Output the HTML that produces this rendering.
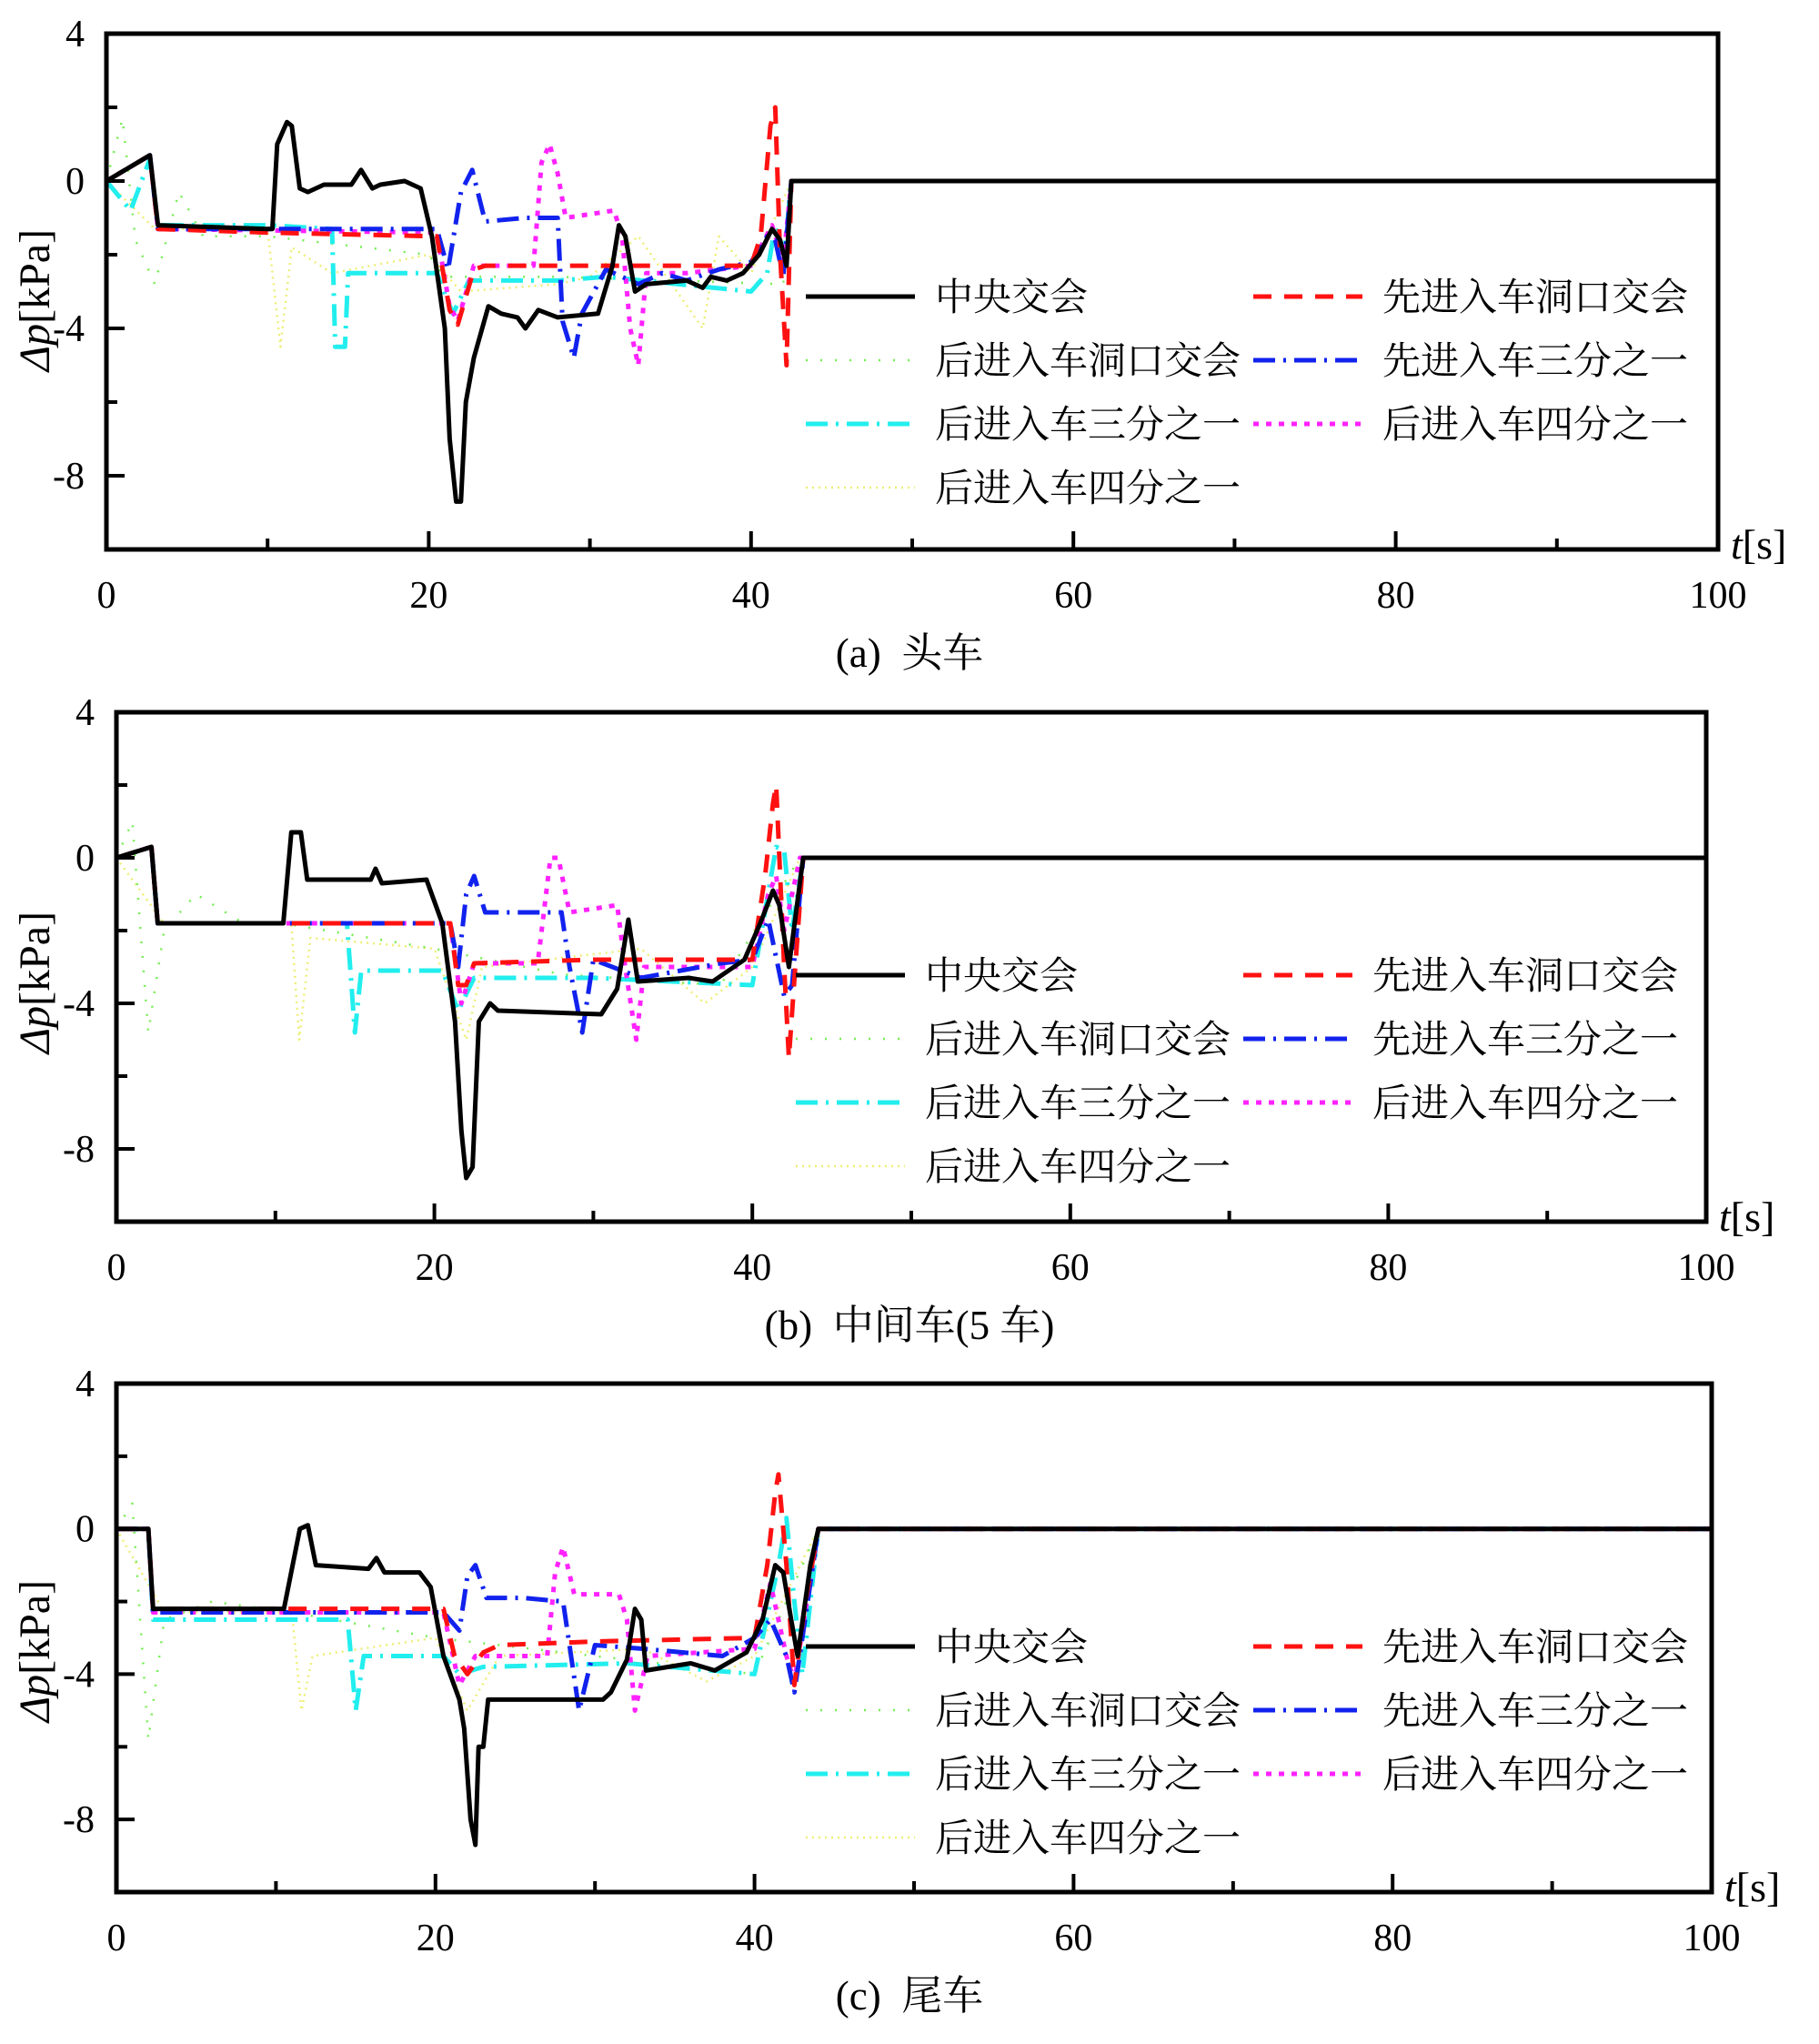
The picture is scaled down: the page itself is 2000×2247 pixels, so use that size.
<!DOCTYPE html>
<html><head><meta charset="utf-8">
<style>
html,body{margin:0;padding:0;background:#fff;}
svg{display:block;font-family:"Liberation Serif","Noto Serif CJK SC","Noto Sans CJK SC",serif;}
.cap{white-space:pre;}
</style></head>
<body>
<svg id="chart" width="2000" height="2247" viewBox="0 0 2000 2247" xmlns="http://www.w3.org/2000/svg"></svg>
<script>
// ---- data: panel (a) 头车 ----
const aBlackT=[0,2.7,3.2,10,10.3,10.6,11.2,11.5,12,12.5,13.5,15.2,15.8,16.5,17,18.5,19.5,20.2,21,21.3,21.7,22,22.3,22.8,23.7,24.5,25.5,26,26.8,28,30.5,31.4,31.8,32.2,32.8,33.5,36,37,37.5,38.5,39.5,40.5,41.3,41.8,42.2,42.5,100];
const aBlackV=[0,0.7,-1.2,-1.3,-1.3,1.0,1.6,1.5,-0.2,-0.3,-0.1,-0.1,0.3,-0.2,-0.1,0,-0.2,-1.5,-4,-7,-8.7,-8.7,-6,-4.8,-3.4,-3.6,-3.7,-4,-3.5,-3.7,-3.6,-2.3,-1.2,-1.5,-3,-2.8,-2.7,-2.9,-2.6,-2.7,-2.5,-2,-1.3,-1.6,-2.3,0,0];
const aRedT=[0,2.7,3.2,10,20.5,21.3,21.8,22.8,23.5,40,40.6,41.2,41.5,41.8,42.2,42.5,100];
const aRedV=[0,0.7,-1.3,-1.4,-1.5,-3.5,-3.9,-2.4,-2.3,-2.3,-1.5,1.5,2.0,-2,-5,0,0];
const aBlueT=[0,2.7,3.2,20.5,21.2,22,22.7,23.5,26,28,28.3,29,29.5,31,33,34.5,36,38,40,41,41.5,42,42.5,100];
const aBlueV=[0,0.7,-1.3,-1.3,-2.4,-0.3,0.3,-1.1,-1,-1,-3.8,-4.8,-3.6,-2.4,-2.8,-2.5,-2.7,-2.4,-2.2,-1.5,-1.6,-2.6,0,0];
const aMagT=[0,2.7,3.2,20.5,21.3,21.8,22.8,26.5,27,27.5,28,28.5,31.5,32,32.5,33,33.5,36,40,41.3,42,42.5,100];
const aMagV=[0,0.7,-1.3,-1.4,-3.4,-3.8,-2.3,-2.3,0.5,1.0,0.2,-1.0,-0.8,-1.5,-4,-5,-2.5,-2.5,-2.3,-1.2,-2.2,0,0];
const aCyanT=[0,1.5,2.7,3.2,10,14,14.2,14.8,15,20.5,21.5,22.5,28,31,40,41,41.5,42,42.5,100];
const aCyanV=[0,-0.8,0.6,-1.2,-1.2,-1.3,-4.5,-4.5,-2.5,-2.5,-3.6,-2.7,-2.7,-2.6,-3,-2.5,-1.2,-2.3,0,0];
const aGreenT=[0,1,1.8,3,4.5,6,10,20,21,28,42,42.5,100];
const aGreenV=[0,1.7,-1.6,-2.8,-0.3,-1.5,-1.5,-2,-2.6,-2.6,-2.8,0,0];
const aYelT=[0,3,10,10.8,11.5,14,20,22,28,30,33,37,38,40,42.5,100];
const aYelV=[0,-1.3,-1.3,-4.5,-1.8,-2.5,-2.0,-3,-2.8,-2.6,-1.5,-4,-1.5,-2.5,0,0];
// ---- data: panel (b) 中间车 ----
const bBlackT=[0,2.2,2.6,10.5,11,11.6,12,16,16.3,16.7,19.5,20.5,21.3,21.7,22,22.4,22.8,23.5,24,30.5,31.5,32.2,32.8,36,37.5,39.5,40.5,41.3,41.7,42.3,43.2,100];
const bBlackV=[0,0.3,-1.8,-1.8,0.7,0.7,-0.6,-0.6,-0.3,-0.7,-0.6,-1.8,-4.5,-7.5,-8.8,-8.5,-4.5,-4,-4.2,-4.3,-3.6,-1.7,-3.4,-3.3,-3.4,-2.8,-1.8,-0.9,-1.3,-3,0,0];
const bRedT=[0,2.2,2.6,21,21.5,22,22.5,30,40,40.8,41.3,41.5,42,42.3,42.7,43.2,100];
const bRedV=[0,0.3,-1.8,-1.8,-3.5,-3.5,-2.9,-2.8,-2.8,-0.5,1.5,2,-3,-5.5,-3,0,0];
const bBlueT=[0,2.2,2.6,21,21.5,22,22.5,23.2,28,28.5,29.3,30,33,38,40,41,42,42.5,43.2,100];
const bBlueV=[0,0.3,-1.8,-1.8,-3,-1,-0.5,-1.5,-1.5,-3,-4.8,-2.8,-3.3,-2.9,-2.8,-1.7,-3.8,-3.5,0,0];
const bMagT=[0,2.2,2.6,21,21.7,22.5,26.5,27.3,27.8,28.5,31.5,32,32.7,33.2,40,41,41.5,42,43,100];
const bMagV=[0,0.3,-1.8,-1.8,-4,-2.9,-2.9,0,0,-1.5,-1.3,-3,-5,-3,-3,-1,-0.5,-2,0,0];
const bCyanT=[0,2.2,2.6,14.5,15,15.4,20.5,21.5,22.5,30,40,41.5,42,42.5,43.2,100];
const bCyanV=[0,0.3,-1.8,-1.8,-4.8,-3.1,-3.1,-4.2,-3.3,-3.3,-3.5,0.3,0.2,-2,0,0];
const bGreenT=[0,1,2,3,5,8,10.5,20,28,38,43,100];
const bGreenV=[0,1,-4.8,-2,-1,-1.8,-1.8,-2.5,-3.2,-3.5,0,0];
const bYelT=[0,3,11,11.5,12.2,20,22,23,33,37,40,43,100];
const bYelV=[0,-1.8,-1.8,-5,-2.2,-2.5,-5,-3,-2.5,-4,-3,0,0];
// ---- data: panel (c) 尾车 ----
const cBlackT=[0,2,2.3,10.5,11.5,12,12.5,15.8,16.3,16.8,19,19.7,20.5,21.5,21.8,22.2,22.5,22.7,23,23.3,28,30.5,31,32,32.5,32.9,33.2,36,37.5,39.5,40.5,41.3,41.8,42.3,42.7,43.5,44,100];
const cBlackV=[0,0,-2.2,-2.2,0,0.1,-1.0,-1.1,-0.8,-1.2,-1.2,-1.6,-3.5,-4.7,-5.5,-8,-8.7,-6,-6,-4.7,-4.7,-4.7,-4.5,-3.6,-2.2,-2.5,-3.9,-3.7,-3.9,-3.4,-2.5,-1.0,-1.2,-2.5,-3.5,-1,0,0];
const cRedT=[0,2,2.3,20.5,21.2,22,23,24,30,40,40.8,41.3,41.5,42,42.5,43.2,44,100];
const cRedV=[0,0,-2.2,-2.2,-3.5,-4,-3.4,-3.2,-3.1,-3,-1,1.0,1.5,-1,-4.3,-2,0,0];
const cBlueT=[0,2,2.3,20.5,21.5,22,22.5,23.2,25.5,28,29,30,33,38,40,41,42,42.5,44,100];
const cBlueV=[0,0,-2.3,-2.3,-2.8,-1.3,-1.0,-1.9,-1.9,-2,-5.0,-3.2,-3.3,-3.5,-3,-2.5,-3.5,-4.5,0,0];
const cMagT=[0,2,2.3,20.5,21.5,22.5,27,27.5,28,28.7,31.5,32,32.5,33.3,40,41,42,42.5,44,100];
const cMagV=[0,0,-2.3,-2.3,-4.3,-3.5,-3.5,-1.2,-0.5,-1.8,-1.8,-2.5,-5,-3.5,-3.3,-1.5,-3.5,-4.2,0,0];
const cCyanT=[0,2,2.3,14.5,15,15.5,20.5,21.5,23,32,40,41.5,42,42.5,43,44,100];
const cCyanV=[0,0,-2.5,-2.5,-5,-3.5,-3.5,-4,-3.8,-3.7,-4,-1,0.3,-2,-4,0,0];
const cGreenT=[0,1,2,3,6,11,20,30,40,44,100];
const cGreenV=[0,0.7,-5.8,-2.5,-2,-2.3,-3,-3.5,-4,0,0];
const cYelT=[0,3,11,11.6,12.3,20,22,24,33,37,40,44,100];
const cYelV=[0,-2.3,-2.3,-5,-3.5,-3,-5,-3.5,-3.3,-4.2,-3.5,0,0];

const xTicks=[0,20,40,60,80,100];
const yTicks=[4,0,-4,-8];
const legendLabels=["中央交会","先进入车洞口交会","后进入车洞口交会","先进入车三分之一","后进入车三分之一","后进入车四分之一","后进入车四分之一"];

const NS="http://www.w3.org/2000/svg";
const svg=document.getElementById('chart');
function mk(tag,attrs,parent){const e=document.createElementNS(NS,tag);for(const k in attrs)e.setAttribute(k,attrs[k]);(parent||svg).appendChild(e);return e;}

const styles={
 yel:{stroke:"#eeee77",w:2.5,dash:"2 5"},
 green:{stroke:"#77ee55",w:2.5,dash:"2 14"},
 cyan:{stroke:"#22eeee",w:5,dash:"24 9 3 9"},
 mag:{stroke:"#ff22ff",w:5,dash:"6 8"},
 blue:{stroke:"#1122ee",w:5,dash:"24 9 3 9"},
 red:{stroke:"#ff1111",w:5,dash:"20 14"},
 black:{stroke:"#000",w:5,dash:""}
};
const legendStyle=["black","red","green","blue","cyan","mag","yel"];

const panels=[
 {id:"a",L:117,R:1889,T:37,B:604,cap:"(a)  头车",capY:733,ylabY:330,legDx:0,
  s:{yel:[aYelT,aYelV],green:[aGreenT,aGreenV],cyan:[aCyanT,aCyanV],mag:[aMagT,aMagV],blue:[aBlueT,aBlueV],red:[aRedT,aRedV],black:[aBlackT,aBlackV]}},
 {id:"b",L:128,R:1876,T:783,B:1343,cap:"(b)  中间车(5 车)",capY:1472,ylabY:1080,legDx:-11,
  s:{yel:[bYelT,bYelV],green:[bGreenT,bGreenV],cyan:[bCyanT,bCyanV],mag:[bMagT,bMagV],blue:[bBlueT,bBlueV],red:[bRedT,bRedV],black:[bBlackT,bBlackV]}},
 {id:"c",L:128,R:1882,T:1521,B:2080,cap:"(c)  尾车",capY:2209,ylabY:1815,legDx:0,
  s:{yel:[cYelT,cYelV],green:[cGreenT,cGreenV],cyan:[cCyanT,cCyanV],mag:[cMagT,cMagV],blue:[cBlueT,cBlueV],red:[cRedT,cRedV],black:[cBlackT,cBlackV]}}
];

panels.forEach(p=>{
 const g=mk('g',{});
 
 
 const xs=t=>p.L+(t/100)*(p.R-p.L);
 const ys=v=>p.T+(4-v)/14*(p.B-p.T);
 const sg=mk('g',{},g);
 ["yel","green","cyan","mag","blue","red","black"].forEach(k=>{
  const [T,V]=p.s[k];const st=styles[k];
  let d="";T.forEach((t,i)=>{d+=(i?"L":"M")+xs(t).toFixed(1)+" "+ys(V[i]).toFixed(1);});
  const path=mk('path',{d:d,fill:"none",stroke:st.stroke,'stroke-width':st.w,'stroke-dasharray':st.dash,'stroke-linejoin':'round'},sg);
  
  
 });
 const fr=mk('rect',{x:p.L,y:p.T,width:p.R-p.L,height:p.B-p.T,fill:"none",stroke:"#000",'stroke-width':5},g);
 
 
 for(let t=10;t<100;t+=10){
  const len=(t%20===0)?20:12;
  mk('line',{x1:xs(t),x2:xs(t),y1:p.B,y2:p.B-len,stroke:"#000",'stroke-width':4},g);
 }
 xTicks.forEach(t=>{
  const tx=mk('text',{x:xs(t),y:p.B+64,'font-size':42,'text-anchor':'middle'},g);
  tx.textContent=t;
  
  
 });
 for(let v=2;v>=-8;v-=2){
  const len=(v%4===0)?20:12;
  mk('line',{x1:p.L,x2:p.L+len,y1:ys(v),y2:ys(v),stroke:"#000",'stroke-width':4},g);
 }
 yTicks.forEach(v=>{
  const tx=mk('text',{x:p.L-24,y:ys(v)+14,'font-size':42,'text-anchor':'end'},g);
  tx.textContent=v;
  
  
 });
 const yl=mk('text',{x:0,y:0,'font-size':48,'text-anchor':'middle',transform:`translate(54 ${p.ylabY}) rotate(-90)`},g);
 yl.innerHTML='<tspan font-style="italic">Δp</tspan>[kPa]';
 
 
 const xl=mk('text',{x:p.R+14,y:p.B+10,'font-size':46},g);
 xl.innerHTML='<tspan font-style="italic">t</tspan>[s]';
 
 
 const cap=mk('text',{x:1000,y:p.capY,'font-size':45,'text-anchor':'middle','class':'cap'},g);
 cap.textContent=p.cap;
 
 
 const lg=mk('g',{},g);
 
 
 legendLabels.forEach((lab,i)=>{
  const col=i%2,row=Math.floor(i/2);
  const lx=(col?1378:886)+p.legDx, ty=p.T+289+row*70;
  const st=styles[legendStyle[i]];
  const e=mk('g',{},lg);
  
  
  mk('line',{x1:lx,x2:lx+120,y1:ty,y2:ty,stroke:st.stroke,'stroke-width':st.w,'stroke-dasharray':st.dash},e);
  const tx=mk('text',{x:lx+142,y:ty+15,'font-size':42},e);
  tx.textContent=lab;
 });
});
</script>
</body></html>
